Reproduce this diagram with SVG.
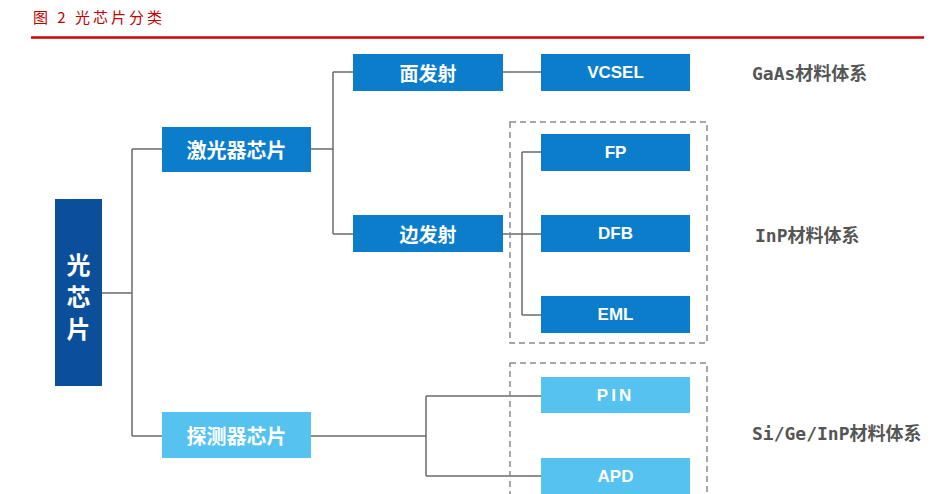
<svg xmlns="http://www.w3.org/2000/svg" width="941" height="494" viewBox="0 0 941 494">
<style>
.t{font-family:"Noto Sans CJK SC","Liberation Sans",sans-serif;font-weight:bold;fill:#fff;text-anchor:middle;dominant-baseline:central}
.lat{font-family:"Liberation Sans Narrow","Liberation Sans","Noto Sans CJK SC",sans-serif;font-weight:bold;fill:#fff;text-anchor:middle;dominant-baseline:central;font-size:17px}
.side{font-family:"DejaVu Sans Mono","Noto Sans CJK SC",monospace;font-weight:bold;fill:#555;font-size:18px;dominant-baseline:central}
.c{fill:none;stroke:#6b6b6b;stroke-width:1.5}
.d{fill:none;stroke:#8a8a8a;stroke-width:1.5;stroke-dasharray:6 4}
.dark{fill:#0b4f9a}
.mid{fill:#0b7dcb}
.light{fill:#55c2ef}
</style>
<rect width="941" height="494" fill="#fff"/>
<text x="33" y="16" font-family="Noto Sans CJK SC,sans-serif" font-size="15" fill="#c00000" dominant-baseline="central" letter-spacing="3">图 2 光芯片分类</text>
<line x1="31" y1="37.5" x2="924" y2="37.5" stroke="#d00000" stroke-width="2.5"/>
<g id="connectors">
<path class="c" d="M102,293 H132 M132,149 V436 M132,149 H162 M132,436 H162"/>
<path class="c" d="M311,149 H333 M333,72 V234 M333,72 H353 M333,234 H353"/>
<path class="c" d="M503,72 H541"/>
<path class="c" d="M503,234 H541 M522,152 V315 M522,152 H541 M522,315 H541"/>
<path class="c" d="M311,436 H426 M426,396 V476 M426,396 H541 M426,476 H541"/>
</g>
<g id="groups">
<rect class="d" x="510" y="122" width="197" height="221"/>
<rect class="d" x="510" y="363" width="197" height="140"/>
</g>
<g id="n-root"><rect class="dark" x="55" y="199" width="47" height="187"/>
<text class="t" x="78.5" y="263" font-size="24">光</text>
<text class="t" x="78.5" y="295" font-size="24">芯</text>
<text class="t" x="78.5" y="327" font-size="24">片</text></g>
<g id="n-laser"><rect class="mid" x="162" y="127" width="149" height="45"/><text class="t" x="236.5" y="149.5" font-size="20">激光器芯片</text></g>
<g id="n-det"><rect class="light" x="162" y="412" width="149" height="46"/><text class="t" x="236.5" y="435" font-size="20">探测器芯片</text></g>
<g id="n-surface"><rect class="mid" x="353" y="54" width="150" height="37"/><text class="t" x="428" y="72.5" font-size="19">面发射</text></g>
<g id="n-edge"><rect class="mid" x="353" y="215" width="150" height="37"/><text class="t" x="428" y="233.5" font-size="19">边发射</text></g>
<g id="n-vcsel"><rect class="mid" x="541" y="54" width="149" height="37"/><text class="lat" x="615.5" y="72.5">VCSEL</text></g>
<g id="n-fp"><rect class="mid" x="541" y="134" width="149" height="37"/><text class="lat" x="615.5" y="152.5">FP</text></g>
<g id="n-dfb"><rect class="mid" x="541" y="215" width="149" height="37"/><text class="lat" x="615.5" y="233.5">DFB</text></g>
<g id="n-eml"><rect class="mid" x="541" y="296" width="149" height="37"/><text class="lat" x="615.5" y="314.5">EML</text></g>
<g id="n-pin"><rect class="light" x="541" y="377" width="149" height="36"/><text class="lat" x="615.5" y="395" letter-spacing="3">PIN</text></g>
<g id="n-apd"><rect class="light" x="541" y="458" width="149" height="37"/><text class="lat" x="615.5" y="476">APD</text></g>
<g id="labels">
<text class="side" x="752" y="73">GaAs材料体系</text>
<text class="side" x="755" y="235">InP材料体系</text>
<text class="side" x="752" y="433">Si/Ge/InP材料体系</text>
</g>
</svg>
